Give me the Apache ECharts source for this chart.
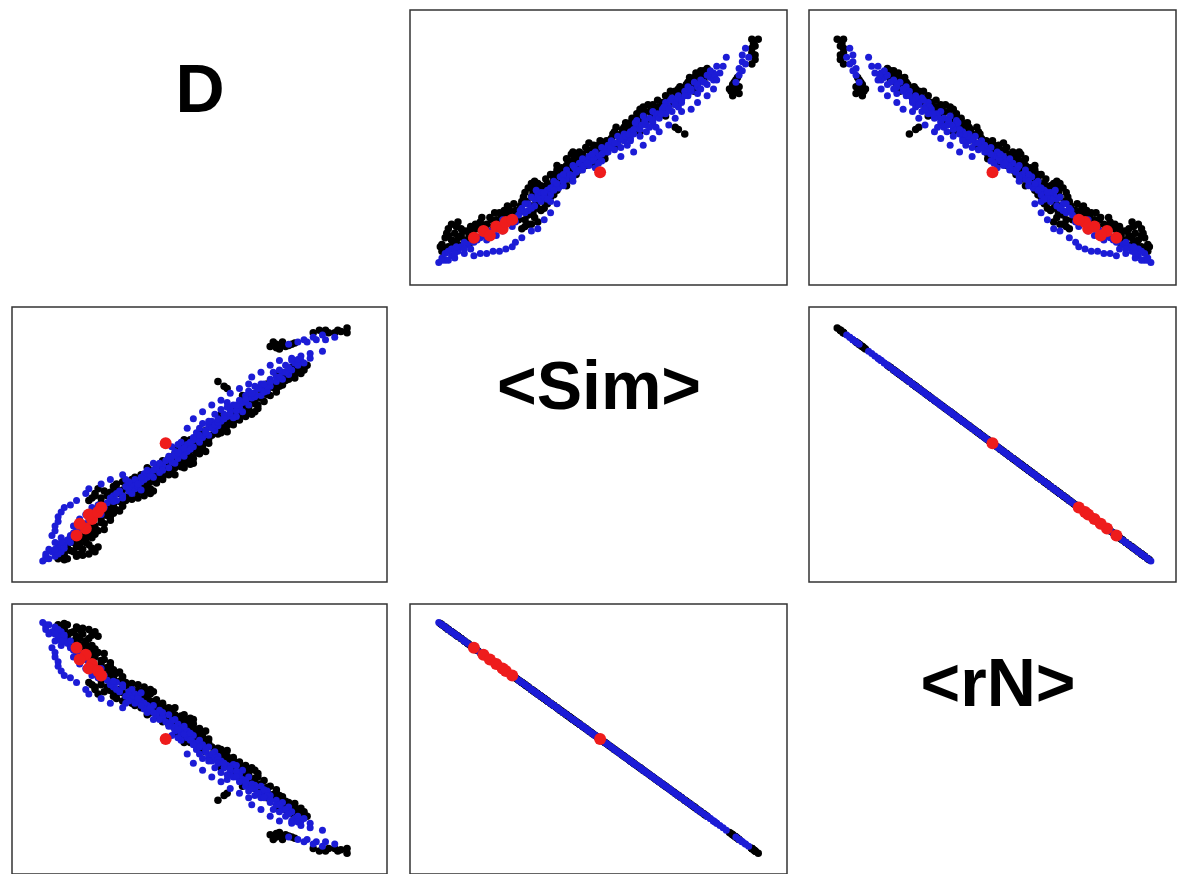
<!DOCTYPE html>
<html>
<head>
<meta charset="utf-8">
<script src="https://cdn.jsdelivr.net/npm/echarts@6/dist/echarts.min.js"></script>
<style>
html, body { margin: 0; padding: 0; background: #fff; }
#pairs { width: 1178px; height: 874px; }
</style>
</head>
<body>
<div id="pairs"></div>
<script>
var varNames = ['D', '<Sim>', '<rN>'];
var axisMin = [-9, -9, -9];
var axisMax = [113, 109, 108];

// every point is [D, Sim, rN]
var blackPts = [
  [6,1,99],[9,1,99],[12,2,98],[16,3,97],[8,3,97],[11,4,96],[14,5,95],[18,4,96],[9,6,94],[13,7,93],
  [16,7,93],[11,8,92],[15,9,91],[10,10,90],[17,10,90],[7,2,98],[13,3,97],
  [8,0.5,99.5],[14,2.5,97.5],[10,4.5,95.5],[17,5.5,94.5],[12,6,94],[15,8,92],[19,6,94],[13,9.5,90.5],
  [13,11,89],[16,12,88],[19,13,87],[14,14,86],[18,15,85],[21,16,84],[17,17,83],[20,18,82],[23,19,81],
  [19,20,80],[22,21,79],[25,22,78],[21,23,77],[24,24,76],[10,9,91],[12,12,88],
  [15,10.5,89.5],[18,11.5,88.5],[21,13.5,86.5],[16,14.5,85.5],[20,16.5,83.5],[23,17.5,82.5],
  [22,19.5,80.5],[24,20.5,79.5],[26,21.5,78.5],[23,22.5,77.5],[27,23.5,76.5],[18,13,87],
  [20,25,75],[24,26,74],[28,26,74],[32,27,73],[18,28,72],[22,28,72],[26,29,71],[30,29,71],[34,30,70],
  [21,30,70],[25,31,69],[29,32,68],[33,32,68],[36,31,69],[16,26,74],[17,27,73],[18,29,71],[19,31,69],
  [22,24.5,75.5],[26,25.5,74.5],[30,26.5,73.5],[34,28,72],[36,29,71],[28,27.5,72.5],[32,29.5,70.5],
  [23,29.5,70.5],[27,30.5,69.5],[31,31,69],[35,32,68],[20,27,73],[37,30,70],[24,32,68],
  [25,33,67],[28,33,67],[32,34,66],[36,34,66],[40,35,65],[30,35,65],[34,36,64],[38,36,64],[42,37,63],
  [33,37,63],[37,38,62],[41,38,62],[27,34,66],
  [30,32.5,67.5],[34,33,67],[38,33.5,66.5],[36,35.5,64.5],[40,36,64],[44,37,63],[39,37.5,62.5],
  [43,38.5,61.5],[31,36,64],[35,38,62],
  [36,39,61],[40,39,61],[44,40,60],[47,40,60],[38,41,59],[42,41,59],[46,42,58],[50,42,58],[40,43,57],
  [44,43,57],[48,44,56],[35,40,60],
  [38,39,61],[42,39.5,60.5],[46,40.5,59.5],[49,41.5,58.5],[44,41.5,58.5],[48,42.5,57.5],[46,43.5,56.5],
  [50,44,56],[42,44,56],
  [45,45,55],[49,45,55],[52,46,54],[47,47,53],[51,48,52],[45,48,52],[49,49,51],[53,50,50],[47,50,50],
  [51,51,49],[49,52,48],[44,46,54],
  [47,45.5,54.5],[51,46.5,53.5],[54,47,53],[49,47.5,52.5],[53,48.5,51.5],[51,49.5,50.5],[55,50.5,49.5],
  [53,51.5,48.5],[55,52.5,47.5],[47,52,48],
  [53,53,47],[56,54,46],[59,55,45],[54,56,44],[58,57,43],[61,58,42],[56,58,42],[60,59,41],[63,60,40],
  [52,55,45],
  [55,53.5,46.5],[58,54.5,45.5],[61,55.5,44.5],[57,56.5,43.5],[60,57.5,42.5],[63,58.5,41.5],
  [58,59.5,40.5],[62,60,40],[65,60.5,39.5],
  [60,61,39],[64,61,39],[67,62,38],[62,63,37],[66,64,36],[70,64,36],[64,65,35],[68,66,34],[71,67,33],
  [66,68,32],[70,69,31],[59,63,37],
  [62,61.5,38.5],[66,62.5,37.5],[69,63,37],[64,63.5,36.5],[68,64.5,35.5],[71,65.5,34.5],[66,66.5,33.5],
  [70,67.5,32.5],[73,68.5,31.5],[68,69,31],
  [68,70,30],[72,70,30],[75,71,29],[70,72,28],[74,73,27],[77,74,26],[72,75,25],[76,76,24],[66,71,29],
  [70,70.5,29.5],[74,71.5,28.5],[77,72.5,27.5],[72,73.5,26.5],[76,74.5,25.5],[79,75.5,24.5],
  [74,76,24],[78,75,25],
  [61,74,26],[60,75,25],[58,77,23],
  [78,77,23],[81,78,22],[79,79,21],[83,80,20],[80,81,19],[84,82,18],[82,83,17],[86,83,17],[77,80,20],
  [80,77.5,22.5],[83,78.5,21.5],[81,79.5,20.5],[85,80.5,19.5],[82,81.5,18.5],[86,82,18],
  [84,83.5,16.5],[87,84,16],
  [75,92,8],[78,91,9],[80,92,8],[82,93,7],[77,93,7],[76,94,6],[79,94,6],
  [77,91.5,8.5],[81,92.5,7.5],[79,93,7],[83,93.5,6.5],
  [100,98,2],[97,99,1],[94,98,2],[91,99,1],[89,98,2],[100,100,0],[98,98.5,1.5],[93,99,1],[96,98,2]
];

var bluePts = [
  [1,0,100],[3,1,99],[2,2,98],[5,2,98],[4,4,96],[7,4,96],[3,5,95],[6,6,94],[8,7,93],[5,8,92],
  [9,9,91],[7,10,90],[2,1,99],
  [2,3,97],[6,3,97],[5,5,95],[8,5.5,94.5],[7,8,92],[10,8,92],
  [10,11,89],[12,13,87],[11,15,85],[14,16,84],[16,18,82],[15,20,80],[18,21,79],[20,22,78],[19,24,76],
  [17,23,77],
  [11,12,88],[13,14,86],[15,16,84],[13,18,82],[17,19,81],[20,20,80],[21,23,77],
  [22,25,75],[25,26,74],[24,28,72],[27,28,72],[29,30,70],[26,30,70],[31,31,69],[28,32,68],[32,32,68],
  [23,27,73],
  [24,25.5,74.5],[27,27,73],[25,29,71],[30,29,71],[29,31.5,68.5],[33,30.5,69.5],
  [30,33,67],[33,34,66],[31,35,65],[35,36,64],[28,35,65],
  [32,33,67],[29,34,66],[34,35,65],[37,36,64],[34,37.5,62.5],
  [33,36,64],[36,37,63],[39,38,62],[35,39,61],[38,40,60],[42,40,60],[40,41,59],[37,42,58],[44,42,58],
  [41,43,57],[45,44,56],[43,45,55],
  [37,39,61],[40,39,61],[39,42,58],[43,42.5,57.5],[42,44,56],
  [42,45,55],[46,46,54],[44,47,53],[48,47,53],[46,48,52],[50,49,51],[43,49,51],[48,50,50],[52,51,49],
  [46,51,49],[50,52,48],
  [44,45.5,54.5],[47,45,55],[45,46.5,53.5],[47,48.5,51.5],[49,48,52],[45,50,50],[49,51,49],
  [51,52.5,47.5],
  [50,53,47],[53,53,47],[55,54,46],[51,55,45],[57,56,44],[54,56,44],[52,57,43],[58,58,42],[55,58,42],
  [53,59,41],[59,60,40],[56,60,40],
  [52,54,46],[54,55,45],[56,57,43],[57,58.5,41.5],[55,60,40],[58,59.5,40.5],
  [58,61,39],[61,62,38],[64,62,38],[57,63,37],[60,63,37],[66,64,36],[62,65,35],[59,65,35],[65,66,34],
  [68,67,33],[63,67,33],[61,68,32],[66,68,32],
  [60,61,39],[63,61.5,38.5],[62,63.5,36.5],[64,64.5,35.5],[61,66,34],[64,67,33],[67,68.5,31.5],
  [65,69,31],[69,70,30],[67,71,29],[72,71,29],[70,72,28],[74,73,27],[68,73,27],[72,74,26],[75,75,25],
  [70,75,25],
  [67,69.5,30.5],[70,70.5,29.5],[69,72,28],[73,72.5,27.5],[71,74,26],[74,75,25],[72,76,24],
  [73,76,24],[77,77,23],[75,78,22],[79,78,22],[77,79,21],[81,80,20],[79,81,19],[76,81,19],[82,82,18],
  [80,84,16],[83,85,15],[85,86,14],[88,87,13],[82,86,14],
  [75,77,23],[78,79,21],[80,81,19],[78,82,18],[81,83,17],[84,84,16],[86,85,15],[84,86.5,13.5],
  [81,93,7],[84,94,6],[87,94,6],[90,95,5],[93,95,5],[96,96,4],[86,95,5],[89,96,4],[92,97,3],
  // lower loop
  [4,11,89],[5,13,87],[5,15,85],[6,17,83],[6,19,81],[7,21,79],[8,23,77],[10,24,76],[12,26,74],
  [15,29,71],[16,31,69],[20,33,67],[23,35,65],[27,37,63],
  // upper loop
  [48,57,43],[50,61,39],[53,64,36],[56,67,33],[59,69,31],[62,72,28],[65,74,26],[68,76,24],[69,79,21],
  [72,81,19],[75,84,16],[78,86,14],[82,87,13],[85,88,12],[88,89,11],[92,90,10]
];

var redPts = [
  [12,11,89],[15,14,86],[13,16,84],[17,18,82],[16,20,80],[19,21,79],[20,23,77],[41,50.5,49.5]
];

var colLeft = [12, 410, 809];
var colWidth = [375, 377, 367];
var rowTop = [10, 307, 604];
var rowHeight = 275;
var labelX = [200, 599, 998];

var groups = [
  { pts: blackPts, color: '#000000', size: 7.5 },
  { pts: bluePts, color: '#1c1cd6', size: 7 },
  { pts: redPts, color: '#ee1c1c', size: 12 }
];

var chart = echarts.init(document.getElementById('pairs'));

var grids = [], xAxes = [], yAxes = [], series = [], labels = [];
var idx = 0;
for (var r = 0; r < 3; r++) {
  for (var c = 0; c < 3; c++) {
    if (r === c) {
      labels.push({
        type: 'text',
        x: labelX[c],
        y: rowTop[r] + 83,
        style: {
          text: varNames[r],
          font: 'bold 68px "Liberation Sans", Arial, sans-serif',
          fill: '#000',
          textAlign: 'center',
          textVerticalAlign: 'middle'
        }
      });
      continue;
    }
    grids.push({
      left: colLeft[c], top: rowTop[r], width: colWidth[c], height: rowHeight,
      show: true, borderColor: '#333', borderWidth: 1.5, backgroundColor: '#fff'
    });
    xAxes.push({ gridIndex: idx, type: 'value', min: axisMin[c], max: axisMax[c], show: false });
    yAxes.push({ gridIndex: idx, type: 'value', min: axisMin[r], max: axisMax[r], show: false });
    groups.forEach(function (g) {
      series.push({
        type: 'scatter',
        xAxisIndex: idx,
        yAxisIndex: idx,
        symbol: 'circle',
        symbolSize: g.size,
        itemStyle: { color: g.color, opacity: 1 },
        silent: true,
        data: g.pts.map(function (p) { return [p[c], p[r]]; })
      });
    });
    idx++;
  }
}

chart.setOption({
  animation: false,
  backgroundColor: '#fff',
  grid: grids,
  xAxis: xAxes,
  yAxis: yAxes,
  series: series,
  graphic: labels
});
</script>
</body>
</html>
